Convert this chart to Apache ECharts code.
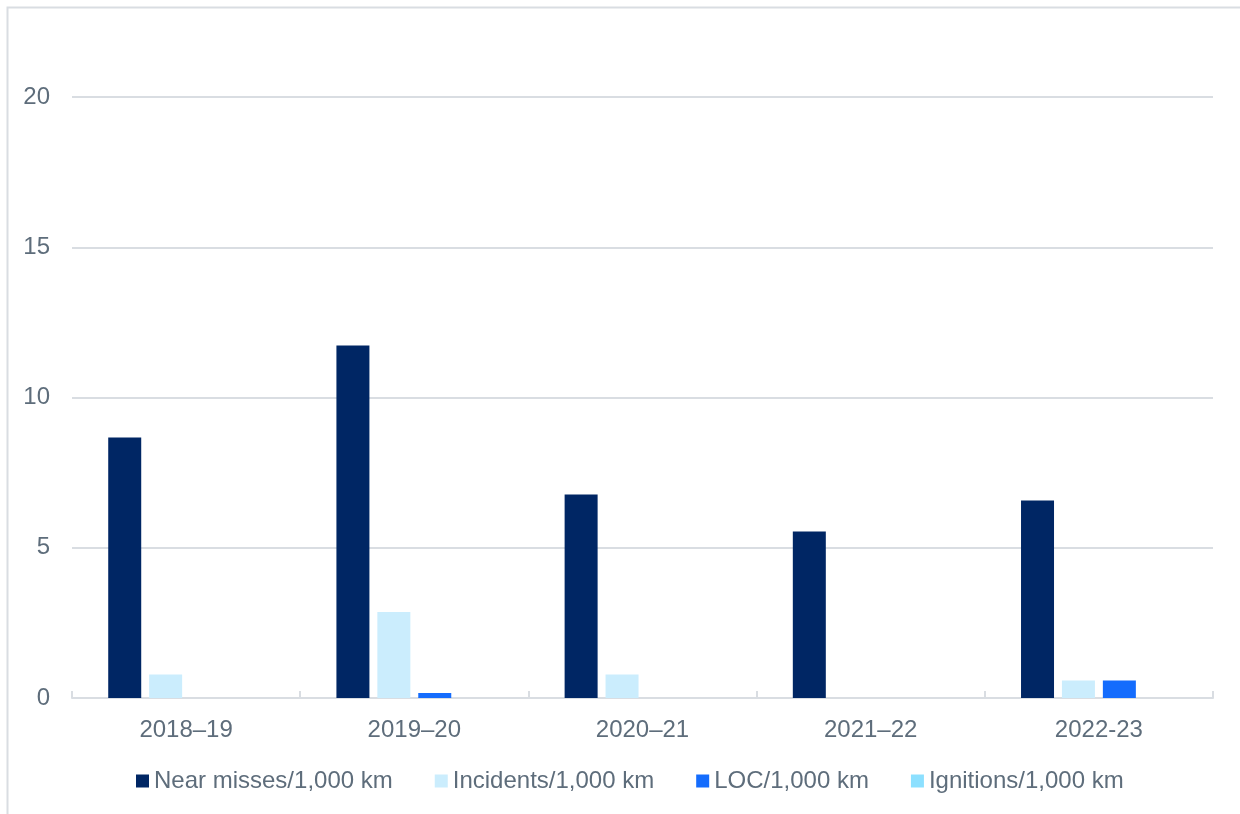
<!DOCTYPE html>
<html>
<head>
<meta charset="utf-8">
<title>Rates per 1,000 km</title>
<script src="https://cdn.jsdelivr.net/npm/echarts@6/dist/echarts.min.js"></script>
<style>
  html, body { margin: 0; padding: 0; background: #fff; }
  #chart { width: 1240px; height: 814px; }
</style>
</head>
<body>
<div id="chart"></div>
<script>
// data
var years = ['2018–19', '2019–20', '2020–21', '2021–22', '2022-23']
var nearMisses = [8.67, 11.73, 6.77, 5.54, 6.57]
var incidents = [0.78, 2.86, 0.78, 0, 0.58]
var loc = [0, 0.17, 0, 0, 0.58]
var ignitions = [0, 0, 0, 0, 0]
var yTicks = { min: 0, max: 20, interval: 5 }

var textColor = '#5e6d7b'
var lineColor = '#d9dde2'
var font = 'Liberation Sans, Arial, sans-serif'

function bar(name, color, data) {
  return {
    name: name,
    type: 'bar',
    data: data,
    barWidth: 33,
    barGap: '24%',
    itemStyle: { color: color },
    animation: false
  }
}

var chart = echarts.init(document.getElementById('chart'))
chart.setOption({
  textStyle: { fontFamily: font },
  graphic: [{
    type: 'rect',
    shape: { x: 7.5, y: 7.5, width: 1260, height: 840 },
    style: { fill: 'none', stroke: lineColor, lineWidth: 2 },
    silent: true
  }],
  grid: { left: 72, right: 27, top: 97, bottom: 116 },
  legend: {
    left: 131,
    top: 764,
    itemWidth: 13,
    itemHeight: 13,
    itemGap: 42,
    icon: 'rect',
    textStyle: { color: textColor, fontSize: 24, fontFamily: font },
    data: ['Near misses/1,000 km', 'Incidents/1,000 km', 'LOC/1,000 km', 'Ignitions/1,000 km']
  },
  xAxis: {
    type: 'category',
    data: years,
    axisLine: { lineStyle: { color: lineColor, width: 2 } },
    axisTick: { show: true, inside: true, length: 7, lineStyle: { color: lineColor, width: 2 } },
    axisLabel: { color: textColor, fontSize: 24, margin: 20, fontFamily: font }
  },
  yAxis: {
    type: 'value',
    min: yTicks.min,
    max: yTicks.max,
    interval: yTicks.interval,
    axisLine: { show: false },
    axisTick: { show: false },
    axisLabel: { color: textColor, fontSize: 24, margin: 22, fontFamily: font },
    splitLine: { lineStyle: { color: lineColor, width: 2 } }
  },
  series: [
    bar('Near misses/1,000 km', '#002664', nearMisses),
    bar('Incidents/1,000 km', '#cbedfd', incidents),
    bar('LOC/1,000 km', '#146cfd', loc),
    bar('Ignitions/1,000 km', '#8ce0ff', ignitions)
  ]
})
</script>
</body>
</html>
